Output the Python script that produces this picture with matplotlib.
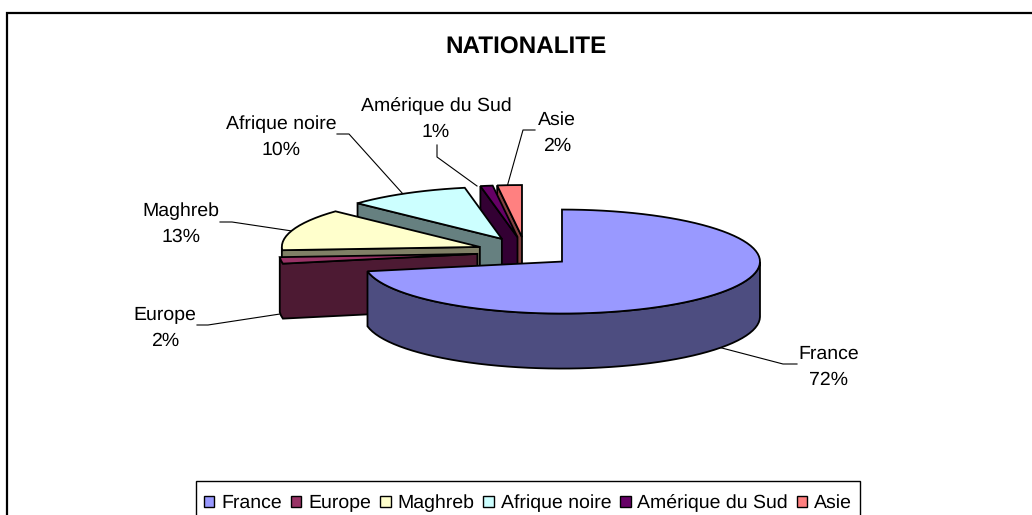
import numpy as np
import matplotlib
matplotlib.use('Agg')
import matplotlib.pyplot as plt
from matplotlib.patches import Polygon, Patch, Rectangle

plt.rcParams['font.family'] = ['Liberation Sans', 'DejaVu Sans']
plt.rcParams['text.hinting'] = 'none'

##### data
categories = ['France', 'Europe', 'Maghreb', 'Afrique noire', 'Amérique du Sud', 'Asie']
percents = [72, 2, 13, 10, 1, 2]
colors = ['#9999FF', '#993366', '#FFFFCC', '#CCFFFF', '#660066', '#FF8080']
side_colors = ['#4D4D80', '#4D1A33', '#808066', '#668080', '#330033', '#804040']
title = 'NATIONALITE'

##### pie geometry (pixels of the picture)
cx, cy = 525, 252    # centre before the slices are pulled out
rx, ry = 198, 52     # ellipse of one slice
expl = 48            # explosion along x
expl_y = 15          # explosion along y
depth = 55           # thickness of the pie
label_size = 14
edge_lw = 1.3


def slice_outline(a0, a1, ox, oy):
    # apex first, then the arc clockwise from 12 o'clock
    n = max(int((a1 - a0) / 3), 2)
    ang = np.radians(np.linspace(a0, a1, n + 1))
    xs = ox + rx * np.sin(ang)
    ys = oy - ry * np.cos(ang)
    return np.column_stack([np.r_[ox, xs], np.r_[oy, ys]])


fig = plt.figure(figsize=(10.32, 5.15), dpi=100)
ax = fig.add_axes([0, 0, 1, 1])
ax.set_xlim(0, 1032)
ax.set_ylim(515, 0)
ax.axis('off')

# frame, only the top and left sides are in the picture
ax.plot([7, 7, 1032], [515, 13, 13], color='black', lw=1.6, solid_joinstyle='miter')

edges = np.cumsum([0] + percents) / sum(percents) * 360.

# painter order: back slices first, France last
z = 3
for i in [5, 4, 3, 2, 1, 0]:
    a0, a1 = edges[i], edges[i + 1]
    mid = np.radians((a0 + a1) / 2.)
    ox = cx + expl * np.sin(mid)
    oy = cy - expl_y * np.cos(mid)
    top = slice_outline(a0, a1, ox, oy)
    # side face: the run of outline edges that run leftwards (they look down)
    pts = np.vstack([top, top[0]])
    front = [k for k in range(len(pts) - 1) if pts[k + 1][0] < pts[k][0]]
    run = pts[front[0]:front[-1] + 2]
    side = np.vstack([run, run[::-1] + [0, depth]])
    ax.add_patch(Polygon(side, closed=True, fc=side_colors[i], ec='black', lw=edge_lw, zorder=z))
    ax.add_patch(Polygon(top, closed=True, fc=colors[i], ec='black', lw=edge_lw, zorder=z + 1))
    z += 2

##### labels and leader lines
label_pos = [(829, 367), (165, 328), (181, 224), (281, 137), (436, 119), (557, 133)]
leaders = [([797, 783, 718], [364, 364, 347]),
           ([197, 208, 280], [325, 325, 314]),
           ([220, 232, 292], [222, 222, 231]),
           ([337, 349, 403], [134, 134, 194]),
           ([437, 437, 477], [145, 157, 186]),
           ([535, 523, 507], [130, 130, 187])]
for name, pct, pos, (lx, ly) in zip(categories, percents, label_pos, leaders):
    ax.plot(lx, ly, color='black', lw=0.8, zorder=2)
    ax.text(pos[0], pos[1], '%s\n%d%%' % (name, pct), ha='center', va='center',
            fontsize=label_size, linespacing=1.62)

ax.text(526, 48, title, ha='center', va='center', fontsize=17.5, fontweight='bold')

##### legend
# box drawn by hand, it runs off the bottom of the picture
ax.add_patch(Rectangle((196, 481), 664, 50, fc='white', ec='black', lw=1.0, zorder=20))
handles = [Patch(fc=c, ec='black', lw=1.0) for c in colors]
leg = ax.legend(handles, categories, ncol=6, loc='lower center', bbox_to_anchor=(528 / 1032., -0.0097),
                fontsize=label_size, frameon=False,
                handlelength=0.55, handleheight=0.55, handletextpad=0.35, columnspacing=0.45,
                borderpad=0.4, borderaxespad=0)
leg.set_zorder(21)

plt.savefig('out.png', dpi=100)
